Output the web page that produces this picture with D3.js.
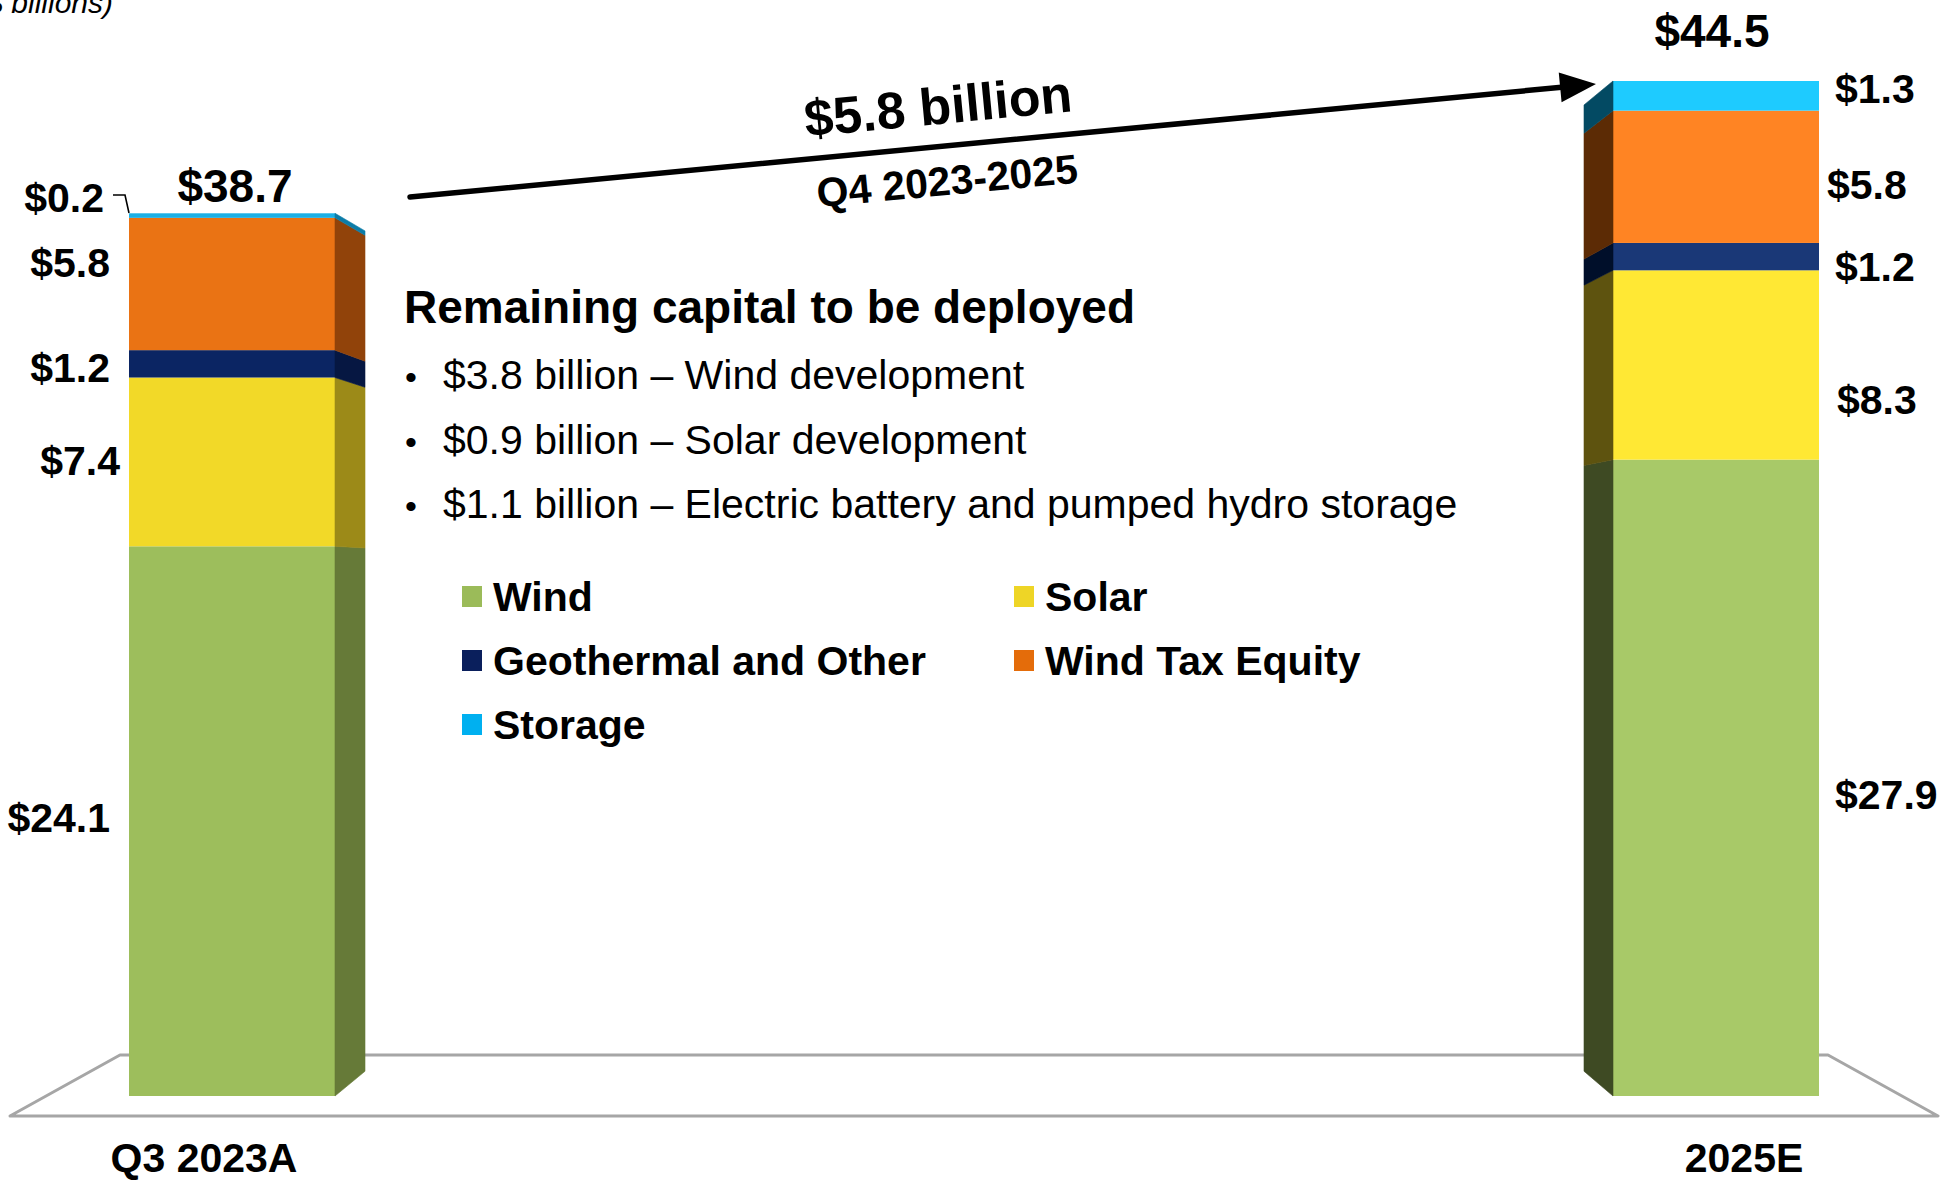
<!DOCTYPE html>
<html>
<head>
<meta charset="utf-8">
<script src="https://cdn.jsdelivr.net/npm/d3@7"></script>
<style>
  html, body { margin: 0; padding: 0; background: #ffffff; }
  svg { display: block; }
  text { font-family: "Liberation Sans", Arial, Helvetica, sans-serif; fill: #000; }
</style>
</head>
<body>
<svg id="chart" width="1948" height="1182"></svg>
<script>
// ---- data (US$ billions) ----
const categories = ["Q3 2023A", "2025E"];
const seriesNames = ["Wind", "Solar", "Geothermal and Other", "Wind Tax Equity", "Storage"];
const windValues       = [24.1, 27.9];
const solarValues      = [7.4, 8.3];
const geothermalValues = [1.2, 1.2];
const taxEquityValues  = [5.8, 5.8];
const storageValues    = [0.2, 1.3];
const totals           = [38.7, 44.5];
const growthLabel  = "$5.8 billion";
const growthPeriod = "Q4 2023-2025";
const headline = "Remaining capital to be deployed";
const bullets = [
  "$3.8 billion \u2013 Wind development",
  "$0.9 billion \u2013 Solar development",
  "$1.1 billion \u2013 Electric battery and pumped hydro storage"
];
const unitsNote = "($ billions)";

// ---- styling ----
const legendColors = ["#9BBB59", "#EED526", "#0A1F5C", "#E46C0A", "#00B0F0"];
const frontColors = [
  ["#9DBE5C", "#F2D928", "#0B2563", "#EA7314", "#1BB0E6"],
  ["#A8C968", "#FFE834", "#1A3877", "#FF8423", "#1ECBFF"]
];
const sideColors = [
  ["#667A38", "#9C8A18", "#061742", "#91430A", "#0C7CA8"],
  ["#3E4A23", "#5E530F", "#000F2A", "#5C2B05", "#034A63"]
];
// vertical nudges for the segment value labels (px)
const labelNudge = [
  [-4, -2, 3, -22, -19],
  [16, 34, 9, 7, -8]
];
const labelX = [[110, 120, 110, 110, 104], [1835, 1837, 1835, 1827, 1835]];

const svg = d3.select("#chart");

const y = d3.scaleLinear().domain([0, 44.5]).range([1096, 81]);
const x = d3.scaleBand().domain(categories).range([129, 1819])
  .paddingInner(1278 / 1484).paddingOuter(0);

// perspective for the side faces
const vanishY = 580, depthK = 0.952;
const sideDepth = [30, -29];
const backY = v => vanishY + (v - vanishY) * depthK;

// ---- floor ----
svg.append("path")
  .attr("d", "M10,1116 L120,1055 L1828,1055 L1938,1116 Z")
  .attr("fill", "none").attr("stroke", "#A6A6A6").attr("stroke-width", 3)
  .attr("stroke-linejoin", "round");

// ---- stacked bars ----
const valueRows = [windValues, solarValues, geothermalValues, taxEquityValues, storageValues];
const stackData = categories.map((c, i) => {
  const row = { category: c };
  seriesNames.forEach((s, k) => row[s] = valueRows[k][i]);
  return row;
});
const stacked = d3.stack().keys(seriesNames)(stackData);

const barsG = svg.append("g");
categories.forEach((cat, i) => {
  const x0 = x(cat), x1 = x0 + x.bandwidth();
  const dep = sideDepth[i];
  const xf = dep > 0 ? x1 : x0;      // front edge shared with the side face
  const xb = xf + dep;
  stacked.forEach((layer, k) => {
    const d = layer[i];
    const yTop = y(d[1]), yBot = y(d[0]);
    barsG.append("rect")
      .attr("x", x0).attr("y", yTop)
      .attr("width", x1 - x0).attr("height", yBot - yTop)
      .attr("fill", frontColors[i][k]);
    barsG.append("path")
      .attr("d", `M${xf},${yTop} L${xb},${backY(yTop)} L${xb},${backY(yBot)} L${xf},${yBot} Z`)
      .attr("fill", sideColors[i][k])
      .attr("stroke", sideColors[i][k]).attr("stroke-width", 0.6);
  });
});

// ---- segment value labels ----
const labG = svg.append("g").attr("font-weight", "bold").attr("font-size", 41);
categories.forEach((cat, i) => {
  stacked.forEach((layer, k) => {
    const d = layer[i];
    const cy = (y(d[0]) + y(d[1])) / 2 + labelNudge[i][k];
    labG.append("text")
      .attr("x", labelX[i][k]).attr("y", cy + 15)
      .attr("text-anchor", i === 0 ? "end" : "start")
      .text("$" + d3.format(".1f")(valueRows[k][i]));
  });
});
// leader for the thin storage slice
svg.append("path").attr("d", "M113,195 L125,195 L129,213")
  .attr("fill", "none").attr("stroke", "#000").attr("stroke-width", 1.6);

// ---- totals ----
const totalDx = [3, -4];
categories.forEach((cat, i) => {
  svg.append("text")
    .attr("x", x(cat) + x.bandwidth() / 2 + totalDx[i])
    .attr("y", y(totals[i]) - (i === 0 ? 11 : 34))
    .attr("text-anchor", "middle").attr("font-weight", "bold").attr("font-size", 46)
    .text("$" + d3.format(".1f")(totals[i]));
});

// ---- category labels ----
const catDx = [-28, 28];
categories.forEach((cat, i) => {
  svg.append("text")
    .attr("x", x(cat) + x.bandwidth() / 2 + catDx[i]).attr("y", 1172)
    .attr("text-anchor", "middle").attr("font-weight", "bold").attr("font-size", 41)
    .text(cat);
});

// ---- growth arrow ----
const a0 = [410, 197], a1 = [1596, 84];
const ang = Math.atan2(a1[1] - a0[1], a1[0] - a0[0]);
const headLen = 36, headHalf = 15;
const hb = [a1[0] - headLen * Math.cos(ang), a1[1] - headLen * Math.sin(ang)];
svg.append("line")
  .attr("x1", a0[0]).attr("y1", a0[1]).attr("x2", hb[0] + 4 * Math.cos(ang)).attr("y2", hb[1] + 4 * Math.sin(ang))
  .attr("stroke", "#000").attr("stroke-width", 5.5).attr("stroke-linecap", "round");
svg.append("path")
  .attr("d", `M${a1[0]},${a1[1]} L${hb[0] - headHalf * Math.sin(ang)},${hb[1] + headHalf * Math.cos(ang)} L${hb[0] + headHalf * Math.sin(ang)},${hb[1] - headHalf * Math.cos(ang)} Z`)
  .attr("fill", "#000");
const deg = ang * 180 / Math.PI;
svg.append("text").attr("transform", `translate(938,106) rotate(${deg})`)
  .attr("y", 18).attr("text-anchor", "middle").attr("font-weight", "bold").attr("font-size", 52)
  .text(growthLabel);
svg.append("text").attr("transform", `translate(947,180) rotate(${deg})`)
  .attr("y", 15).attr("text-anchor", "middle").attr("font-weight", "bold").attr("font-size", 41)
  .text(growthPeriod);

// ---- notes block ----
svg.append("text").attr("x", 404).attr("y", 323)
  .attr("font-weight", "bold").attr("font-size", 46).text(headline);
bullets.forEach((b, j) => {
  const by = 389 + j * 64.5;
  svg.append("text").attr("x", 405).attr("y", by).attr("font-size", 34).text("\u2022");
  svg.append("text").attr("x", 443).attr("y", by).attr("font-size", 41).text(b);
});

// ---- legend ----
const legendPos = [[0, 0], [1, 0], [0, 1], [1, 1], [0, 2]];
const legCol = [462, 1014], legRow = [596, 660, 724];
seriesNames.forEach((s, k) => {
  const [c, r] = legendPos[k];
  const g = svg.append("g");
  g.append("rect").attr("x", legCol[c]).attr("y", legRow[r] - 10)
    .attr("width", 20).attr("height", 21).attr("fill", legendColors[k]);
  g.append("text").attr("x", legCol[c] + 31).attr("y", legRow[r] + 15)
    .attr("font-weight", "bold").attr("font-size", 41).text(s);
});

// ---- units note ----
svg.append("text").attr("x", 113).attr("y", 13)
  .attr("text-anchor", "end").attr("font-style", "italic").attr("font-size", 30)
  .text(unitsNote);
</script>
</body>
</html>
